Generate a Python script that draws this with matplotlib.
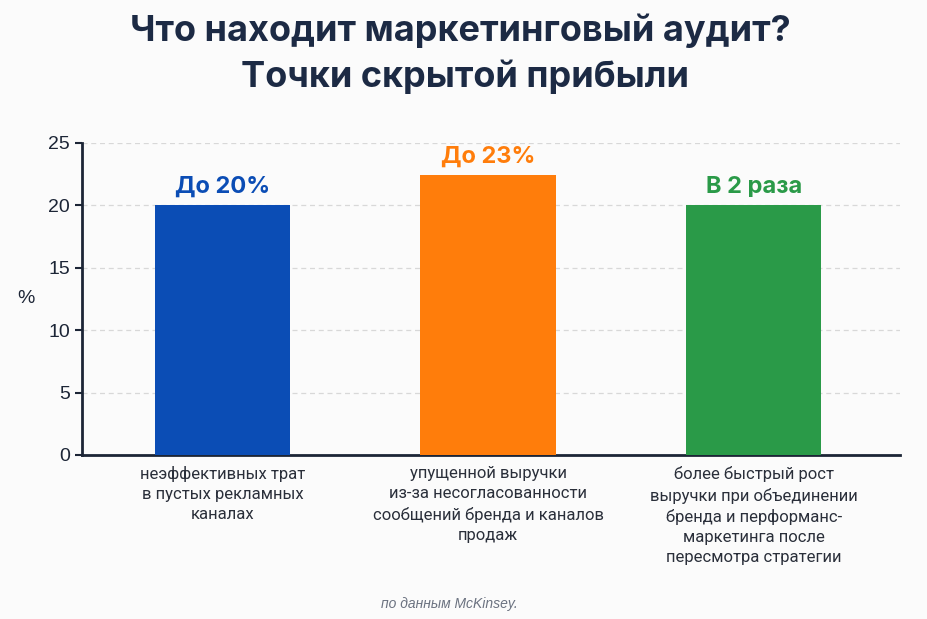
import matplotlib.pyplot as plt

# данные
categories = [
    "неэффективных трат\nв пустых рекламных\nканалах",
    "упущенной выручки\nиз-за несогласованности\nсообщений бренда и каналов\nпродаж",
    "более быстрый рост\nвыручки при объединении\nбренда и перформанс-\nмаркетинга после\nпересмотра стратегии",
]
values = [20, 22.4, 20]
bar_labels = ["До 20%", "До 23%", "В 2 раза"]
colors = ["#0b4db5", "#ff7d0b", "#2a9a48"]
label_colors = ["#0b4db5", "#ff7d0b", "#2a9a48"]

plt.rcParams['font.family'] = ['Liberation Sans', 'DejaVu Sans']
dark = "#1c2536"

fig = plt.figure(figsize=(9.27, 6.19), dpi=100)
fig.patch.set_facecolor("#fbfbfb")
ax = fig.add_axes([0.0885, 0.265, 0.882, 0.504])
ax.set_facecolor("#fbfbfb")

x = range(len(values))
bars = ax.bar(x, values, width=0.51, color=colors, zorder=3)

for b, txt, c in zip(bars, bar_labels, label_colors):
    ax.text(b.get_x() + b.get_width() / 2, b.get_height() + 0.6, txt,
            ha='center', va='bottom', fontsize=17, fontweight='bold', color=c,
            family=['Inter', 'DejaVu Sans'])

ax.set_ylim(0, 25)
ax.set_xlim(-0.53, 2.55)
ax.set_yticks([0, 5, 10, 15, 20, 25])
ax.set_xticks(list(x))
ax.set_xticklabels(categories, fontsize=12, color="#2a2f3a", linespacing=1.42,
                   family=['Roboto', 'DejaVu Sans'])
ax.tick_params(axis='x', length=0, pad=8)
ax.tick_params(axis='y', labelsize=14, colors=dark, length=5, width=1.5)
ax.grid(axis='y', linestyle=(0, (4, 3)), color="#d8d8d8", linewidth=0.9, zorder=0)

for s in ['top', 'right']:
    ax.spines[s].set_visible(False)
for s in ['left', 'bottom']:
    ax.spines[s].set_color(dark)
    ax.spines[s].set_linewidth(2)

ax.set_ylabel("%", rotation=0, fontsize=14, color=dark, labelpad=16, va='center')

fig.text(0.497, 0.951, "Что находит маркетинговый аудит?", ha='center', va='center',
         fontsize=26, fontweight='bold', color="#1c2a44", family=['Inter', 'DejaVu Sans'])
fig.text(0.502, 0.876, "Точки скрытой прибыли", ha='center', va='center',
         fontsize=26, fontweight='bold', color="#1c2a44", family=['Inter', 'DejaVu Sans'])

fig.text(0.485, 0.025, "по данным McKinsey.", ha='center', va='center',
         fontsize=10, style='italic', color="#6b7280")

fig.savefig("out.png", dpi=100, facecolor=fig.get_facecolor())
